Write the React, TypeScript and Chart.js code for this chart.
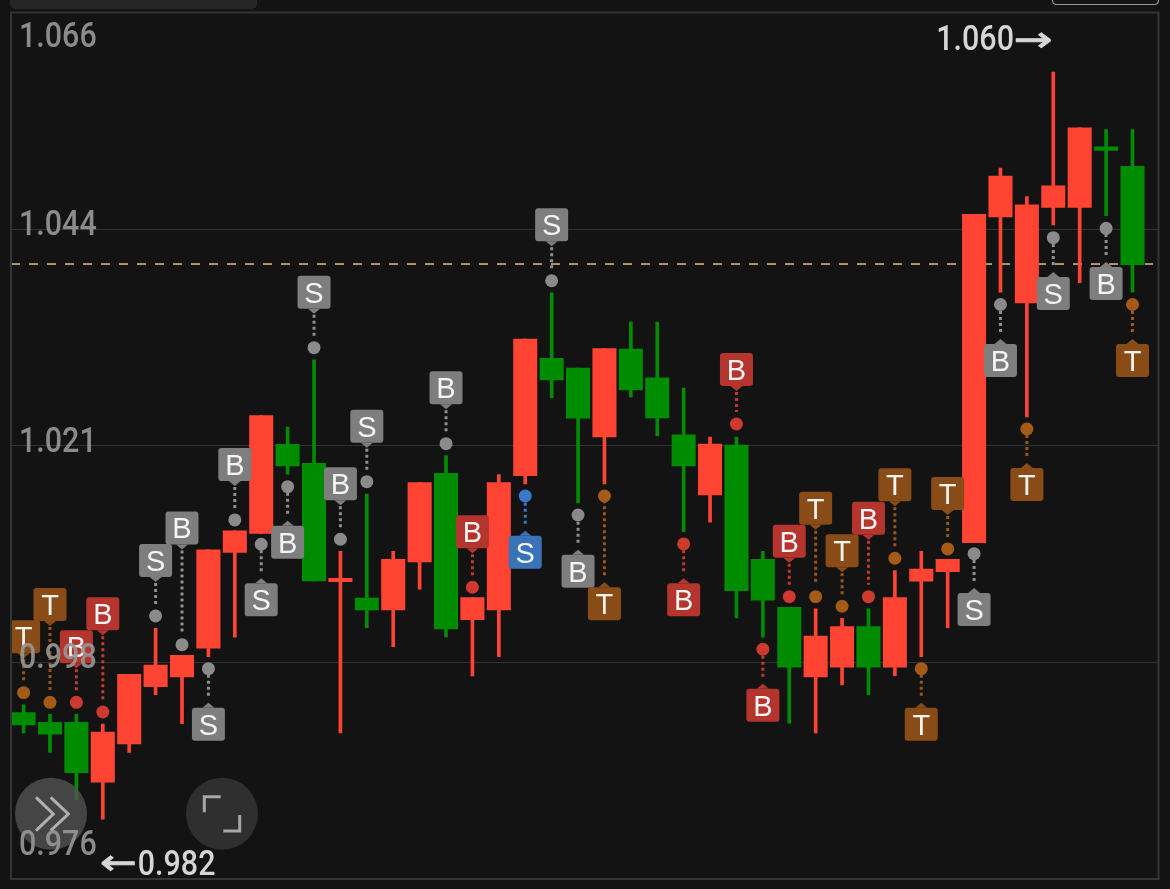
import React, { useEffect, useRef } from "react";
import { Chart, registerables } from "chart.js";

Chart.register(...registerables);

const opens = [0.99321,0.99221,0.99221,0.98596,0.98995,0.99592,0.99693,0.99992,1.00992,1.0119,1.02118,1.0192,1.00686,1.00516,1.00391,1.00891,1.01816,1.0029,1.00391,1.01791,1.03014,1.02913,1.02194,1.03111,1.02809,1.02215,1.01589,1.0211,1.00919,1.00419,0.99693,0.99794,1.00217,0.99794,1.0069,1.0079,1.01092,1.04486,1.0359,1.04587,1.04587,1.05216,1.05015];
const closes = [0.99193,0.99096,0.98696,0.9912,0.99721,0.99818,0.99919,1.01019,1.01217,1.02416,1.01892,1.00693,1.00721,1.00391,1.00919,1.01718,1.00193,1.00519,1.01718,1.03215,1.02788,1.02389,1.03114,1.02684,1.02392,1.01892,1.02121,1.00592,1.00492,0.99794,1.0012,1.00217,0.99794,1.00519,1.00818,1.00919,1.04514,1.04913,1.04614,1.04812,1.05414,1.05181,1.03989];
const highs = [0.99404,0.99304,0.99304,0.99203,0.99721,1.002,0.99919,1.01019,1.01217,1.02416,1.02298,1.02999,1.01003,1.016,1.01003,1.01718,1.01999,1.00519,1.01801,1.03215,1.03697,1.02913,1.03114,1.03392,1.03392,1.02704,1.02194,1.02194,1.01003,1.00419,1.00402,1.00305,1.00402,1.00801,1.01003,1.00919,1.04514,1.04997,1.04698,1.05997,1.05414,1.05396,1.05396];
const lows = [0.99109,0.98908,0.98411,0.9821,0.98908,0.99509,0.99206,0.99905,1.00107,1.0119,1.01805,1.00693,0.99109,1.00207,1.00009,1.00607,1.0011,0.99703,0.99905,1.01704,1.02603,1.01506,1.01704,1.02611,1.02204,1.01207,1.01305,1.00308,1.00107,0.99211,0.99109,0.9961,0.99509,0.99707,0.99905,1.00207,1.01092,1.03702,1.02402,1.04403,1.03802,1.045,1.03702];

const markerCandle = [0,1,2,3,5,6,7,8,9,10,11,12,13,16,17,19,20,21,22,25,27,28,29,30,31,32,33,34,35,36,37,38,39,41,42];
const markerLetter = ["T","T","B","B","S","B","S","B","S","B","S","B","S","B","B","S","S","B","T","B","B","B","B","T","T","B","T","T","T","S","B","T","S","B","T"];
const markerKind = ["trend","trend","red","red","grey","grey","grey","grey","grey","grey","grey","grey","grey","grey","red","blue","grey","grey","trend","red","red","red","red","trend","trend","red","trend","trend","trend","grey","grey","trend","grey","grey","trend"];
const markerPrice = [0.99529,0.99429,0.99429,0.99328,1.00329,1.0003,0.99779,1.01329,1.01076,1.01676,1.03124,1.01128,1.01728,1.02124,1.00628,1.01579,1.03822,1.01381,1.01579,1.01079,1.02329,0.99982,1.0053,1.0053,1.0043,1.0053,1.0093,0.99779,1.01027,1.00978,1.03574,1.02277,1.04271,1.04368,1.03574];
const markerTip = [0.99888,1.00224,0.99784,1.00127,1.00683,1.01022,0.99425,1.01683,1.00721,1.01322,1.03479,1.01482,1.02082,1.02482,1.00982,1.01217,1.04181,1.01019,1.0068,1.00721,1.02673,0.99623,1.00884,1.01228,1.00784,1.01124,1.01472,0.99425,1.01381,1.0062,1.03215,1.01923,1.03913,1.04017,1.03215];

const yTickValues = [1.06617, 1.04361, 1.021, 0.99849, 0.97593];
const currentPrice = 1.03996;

const RED = "#ff4434";
const GREEN = "#008c00";
const BADGE: Record<string, string> = { grey: "#7e7e7e", red: "#b4352d", trend: "#8a4c17", blue: "#3a72b8" };
const DOT: Record<string, string> = { grey: "#8a8a8a", red: "#cf3a2f", trend: "#a65a17", blue: "#3b78cc" };
const STEM: Record<string, string> = { grey: "#8f8f8f", red: "#c4392f", trend: "#9a5518", blue: "#3b78cc" };

const AXIS_FONT = "500 35px Roboto, sans-serif";

function stretched(ctx: CanvasRenderingContext2D, text: string, x: number, y: number, sx: number, stroke = false) {
  ctx.save();
  ctx.translate(x, y);
  ctx.scale(sx, 1);
  ctx.fillText(text, 0, 0);
  if (stroke) {
    ctx.strokeStyle = ctx.fillStyle as string;
    ctx.lineWidth = 0.9;
    ctx.strokeText(text, 0, 0);
  }
  ctx.restore();
}

const overlay = {
  id: "overlay",
  afterDatasetsDraw(chart: any) {
    const { ctx, chartArea: a, scales } = chart;
    const xs = scales.x;
    const ys = scales.y;

    // stems and badges
    ctx.save();
    ctx.beginPath();
    ctx.rect(a.left, a.top, a.right - a.left, a.bottom - a.top);
    ctx.clip();
    markerCandle.forEach((idx, i) => {
      const x = xs.getPixelForValue(idx);
      const dotY = ys.getPixelForValue(markerPrice[i]);
      const tipY = ys.getPixelForValue(markerTip[i]);
      const above = tipY < dotY;
      const kind = markerKind[i];
      ctx.save();
      ctx.strokeStyle = STEM[kind];
      ctx.lineWidth = 3;
      ctx.setLineDash([3, 3]);
      ctx.beginPath();
      if (above) {
        ctx.moveTo(x, tipY + 1);
        ctx.lineTo(x, dotY - 12);
      } else {
        ctx.moveTo(x, tipY - 7);
        ctx.lineTo(x, dotY + 2);
      }
      ctx.stroke();
      ctx.restore();

      const dir = above ? -1 : 1;
      const edge = tipY + dir * 5;
      const top = above ? edge - 33 : edge;
      ctx.fillStyle = BADGE[kind];
      ctx.beginPath();
      ctx.roundRect(x - 16.5, top, 33, 33, 3);
      ctx.fill();
      ctx.beginPath();
      ctx.moveTo(x - 6, edge);
      ctx.lineTo(x, tipY);
      ctx.lineTo(x + 6, edge);
      ctx.closePath();
      ctx.fill();
      ctx.fillStyle = "#f4f4f4";
      ctx.font = "29px 'Liberation Sans', Arial, sans-serif";
      ctx.textAlign = "center";
      ctx.textBaseline = "alphabetic";
      ctx.fillText(markerLetter[i], x, top + 27);
    });
    ctx.restore();

    // frame
    ctx.save();
    ctx.strokeStyle = "#343434";
    ctx.lineWidth = 2;
    ctx.strokeRect(a.left, a.top, a.right - a.left, a.bottom - a.top + 0.5);
    // header pieces cut off by the top of the picture
    ctx.fillStyle = "#262626";
    ctx.beginPath();
    ctx.roundRect(10, -10, 247, 19, 5);
    ctx.fill();
    ctx.strokeStyle = "#9a9a9a";
    ctx.lineWidth = 1.2;
    ctx.beginPath();
    ctx.roundRect(1052.5, -10, 106, 14.5, 4);
    ctx.stroke();
    ctx.restore();

    // round buttons
    ctx.save();
    ctx.fillStyle = "rgba(82,82,82,0.8)";
    ctx.beginPath();
    ctx.arc(51, 813.7, 36, 0, Math.PI * 2);
    ctx.fill();
    ctx.fillStyle = "#2f2f2f";
    ctx.beginPath();
    ctx.arc(222, 813.7, 36, 0, Math.PI * 2);
    ctx.fill();
    ctx.strokeStyle = "#b0b0b0";
    ctx.lineWidth = 3;
    ctx.beginPath();
    ctx.moveTo(36, 797.3); ctx.lineTo(53.3, 814); ctx.lineTo(36, 830.7);
    ctx.moveTo(50.7, 797.3); ctx.lineTo(68.3, 814); ctx.lineTo(50.7, 830.7);
    ctx.stroke();
    ctx.strokeStyle = "#a8a8a8";
    ctx.beginPath();
    ctx.moveTo(220.7, 796.7); ctx.lineTo(204.3, 796.7); ctx.lineTo(204.3, 812.3);
    ctx.moveTo(239.7, 815); ctx.lineTo(239.7, 831); ctx.lineTo(223.3, 831);
    ctx.stroke();
    ctx.restore();

    // price labels on the axis
    ctx.save();
    ctx.font = AXIS_FONT;
    ctx.textBaseline = "alphabetic";
    ctx.textAlign = "left";
    ctx.fillStyle = "rgba(150,150,150,0.92)";
    yTickValues.forEach((v, i) => {
      const y = ys.getPixelForValue(v);
      const off = i === 0 ? 34.5 : i === yTickValues.length - 1 ? -23.5 : 6;
      stretched(ctx, v.toFixed(3), 19, y + off, 0.87);
    });

    // highest and lowest labels
    const hi = Math.max(...highs);
    const lo = Math.min(...lows);
    const hiX = xs.getPixelForValue(highs.indexOf(hi));
    const loX = xs.getPixelForValue(lows.indexOf(lo));
    const hiY = ys.getPixelForValue(hi);
    const loY = ys.getPixelForValue(lo);
    ctx.fillStyle = "#d6d6d6";
    stretched(ctx, hi.toFixed(3), hiX - 117, hiY - 22, 0.87);
    stretched(ctx, lo.toFixed(3), loX + 35, loY + 55.5, 0.87);
    ctx.font = "35px 'DejaVu Sans', sans-serif";
    stretched(ctx, "\u2192", hiX - 39.5, hiY - 21, 1.32, true);
    stretched(ctx, "\u2190", loX - 3, loY + 55, 1.25, true);
    ctx.restore();
  },
};

export default function App() {
  const ref = useRef<HTMLCanvasElement | null>(null);
  useEffect(() => {
    if (!ref.current) return;
    const colors = opens.map((o, i) => (closes[i] >= o ? RED : GREEN));
    const chart = new Chart(ref.current, {
      type: "bar",
      data: {
        datasets: [
          {
            type: "scatter",
            order: 1,
            data: markerCandle.map((c, i) => ({ x: c, y: markerPrice[i] })),
            backgroundColor: markerKind.map((k) => DOT[k]),
            pointRadius: 6.5,
            pointBorderWidth: 0,
            clip: false,
          },
          {
            type: "bar",
            order: 2,
            grouped: false,
            data: opens.map((o, i) => ({ x: i, y: [o, closes[i]] })),
            backgroundColor: colors,
            barPercentage: 1,
            categoryPercentage: 1,
            maxBarThickness: 23.4,
          },
          {
            type: "bar",
            order: 3,
            grouped: false,
            data: highs.map((h, i) => ({ x: i, y: [lows[i], h] })),
            backgroundColor: colors,
            barPercentage: 1,
            categoryPercentage: 1,
            maxBarThickness: 3,
          },
          {
            type: "line",
            order: 4,
            data: [
              { x: -0.477, y: currentPrice },
              { x: 42.78, y: currentPrice },
            ],
            borderColor: "#e0bd8a",
            borderWidth: 1.5,
            borderDash: [9, 9],
            pointRadius: 0,
          },
        ],
      } as any,
      options: {
        animation: false,
        responsive: false,
        layout: { padding: { left: 11, right: 11.5, top: 12.5, bottom: 10.5 } },
        plugins: { legend: { display: false }, tooltip: { enabled: false } },
        scales: {
          x: { type: "linear", display: false, min: -0.477, max: 42.985, offset: false, grid: { display: false } },
          y: {
            type: "linear",
            min: 0.97593,
            max: 1.06617,
            afterBuildTicks: (s: any) => {
              s.ticks = yTickValues.map((value) => ({ value }));
            },
            ticks: { display: false },
            border: { display: false },
            grid: { color: "#313131", lineWidth: 1, drawTicks: false },
          },
        },
      } as any,
      plugins: [overlay],
    });
    return () => chart.destroy();
  }, []);
  return (
    <div style={{ position: "fixed", inset: 0, background: "#131313" }}>
      <canvas ref={ref} width={1170} height={889} style={{ display: "block", width: 1170, height: 889 }} />
    </div>
  );
}
